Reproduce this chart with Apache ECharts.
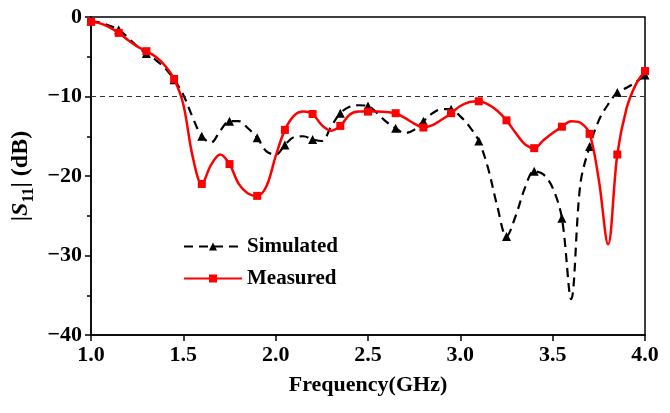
<!DOCTYPE html>
<html>
<head>
<meta charset="utf-8">
<script src="https://cdn.jsdelivr.net/npm/echarts@6/dist/echarts.min.js"></script>
<style>
  html, body { margin: 0; padding: 0; background: #fff; }
  #chart { width: 670px; height: 413px; }
</style>
</head>
<body>
<div id="chart"></div>
<script>
// sampling frequencies (GHz), every 3rd point carries a marker
var freq = [1.00, 1.05, 1.10, 1.15, 1.20, 1.25, 1.30, 1.35, 1.40, 1.45,
  1.50, 1.55, 1.60, 1.65, 1.70, 1.75, 1.80, 1.85, 1.90, 1.95,
  2.00, 2.05, 2.10, 2.15, 2.20, 2.25, 2.30, 2.35, 2.40, 2.45,
  2.50, 2.55, 2.60, 2.65, 2.70, 2.75, 2.80, 2.85, 2.90, 2.95,
  3.00, 3.05, 3.10, 3.15, 3.20, 3.25, 3.30, 3.35, 3.40, 3.45,
  3.50, 3.55, 3.60, 3.65, 3.70, 3.75, 3.80, 3.85, 3.90, 3.95, 4.00];

var simulated = [-0.5, -0.7, -1.1, -1.6, -2.6, -3.7, -4.6, -5.4, -6.4, -7.9,
  -9.8, -12.6, -15.0, -15.8, -14.3, -13.1, -13.1, -14.0, -15.2, -16.9,
  -17.3, -16.1, -15.1, -15.0, -15.4, -15.6, -13.8, -12.1, -11.3, -11.1,
  -11.2, -12.1, -13.2, -14.0, -14.6, -14.2, -13.1, -12.1, -11.6, -11.6,
  -12.5, -13.8, -15.6, -19.0, -23.8, -27.6, -25.0, -21.5, -19.4, -19.8,
  -21.5, -25.3, -35.5, -21.0, -16.3, -13.0, -11.0, -9.5, -8.9, -8.2, -7.3];

var measured = [-0.6, -0.8, -1.3, -2.0, -2.9, -3.7, -4.3, -5.0, -6.1, -7.8,
  -11.0, -17.5, -21.0, -18.6, -17.3, -18.5, -21.0, -22.2, -22.5, -21.3,
  -17.5, -14.2, -12.4, -11.9, -12.2, -13.6, -14.3, -13.7, -12.3, -11.9,
  -11.9, -11.9, -11.95, -12.1, -12.7, -13.4, -13.9, -13.6, -12.9, -12.1,
  -11.2, -10.7, -10.6, -11.0, -11.8, -13.0, -14.6, -16.0, -16.5, -15.5,
  -14.6, -13.8, -13.1, -13.3, -14.7, -20.5, -28.6, -17.3, -11.5, -8.5, -6.8];

var xTicks = [1.0, 1.5, 2.0, 2.5, 3.0, 3.5, 4.0];
var yTicks = [0, -10, -20, -30, -40];
var threshold = -10;

var serif = '"Liberation Serif", "DejaVu Serif", serif';

function pairs(ys) {
  return freq.map(function (f, i) { return [f, ys[i]]; });
}

function markerSize(size) {
  return function (val, params) {
    return params.dataIndex % 3 === 0 ? size : 0;
  };
}

var chart = echarts.init(document.getElementById('chart'), null, { renderer: 'canvas' });

chart.setOption({
  animation: false,
  grid: {
    left: 91, right: 25, top: 17, bottom: 78,
    show: true,
    borderColor: '#000',
    borderWidth: 1.5
  },
  legend: {
    data: ['Simulated', 'Measured'],
    orient: 'vertical',
    left: 178,
    top: 231,
    itemWidth: 58,
    itemHeight: 10,
    itemGap: 11,
    textStyle: { fontFamily: serif, fontWeight: 'bold', fontSize: 21, color: '#000' }
  },
  xAxis: {
    type: 'value',
    min: 1.0,
    max: 4.0,
    interval: 0.5,
    name: 'Frequency(GHz)',
    nameLocation: 'middle',
    nameGap: 39,
    nameTextStyle: { fontFamily: serif, fontWeight: 'bold', fontSize: 22, color: '#000' },
    axisLine: { onZero: false, lineStyle: { color: '#000', width: 1.5 } },
    axisTick: { length: 6, lineStyle: { color: '#000', width: 1.5 } },
    axisLabel: {
      fontFamily: serif, fontWeight: 'bold', fontSize: 22, color: '#000', margin: 9,
      formatter: function (v) {
        return xTicks.indexOf(v) >= 0 ? v.toFixed(1) : '';
      }
    },
    splitLine: { show: false }
  },
  yAxis: {
    type: 'value',
    min: -40,
    max: 0,
    interval: 10,
    name: '|{i|S}{sub|11}| (dB)',
    nameLocation: 'middle',
    nameGap: 50,
    nameTextStyle: {
      fontFamily: serif, fontWeight: 'bold', fontSize: 24, color: '#000',
      rich: {
        i: { fontFamily: serif, fontWeight: 'bold', fontStyle: 'italic', fontSize: 24, color: '#000' },
        sub: { fontFamily: serif, fontWeight: 'bold', fontSize: 16, color: '#000', verticalAlign: 'bottom', padding: [16, 0, 0, 0] }
      }
    },
    axisLine: { onZero: false, lineStyle: { color: '#000', width: 1.5 } },
    axisTick: { length: 6, lineStyle: { color: '#000', width: 1.5 } },
    minorTick: { show: true, splitNumber: 2, length: 4, lineStyle: { color: '#000', width: 1.5 } },
    axisLabel: {
      fontFamily: serif, fontWeight: 'bold', fontSize: 22, color: '#000', margin: 9,
      formatter: function (v) {
        if (yTicks.indexOf(v) < 0) return '';
        return v < 0 ? '\u2212' + Math.abs(v) : String(v);
      }
    },
    splitLine: { show: false }
  },
  series: [
    {
      name: 'Simulated',
      type: 'line',
      data: pairs(simulated),
      smooth: 0.35,
      symbol: 'triangle',
      symbolSize: markerSize(9),
      showAllSymbol: true,
      color: '#000',
      lineStyle: { color: '#000', width: 2.2, type: [9, 6] },
      itemStyle: { color: '#000' },
      z: 2,
      markLine: {
        silent: true,
        symbol: ['none', 'none'],
        label: { show: false },
        lineStyle: { color: '#333', width: 1, type: [5, 4] },
        data: [{ yAxis: threshold }]
      }
    },
    {
      name: 'Measured',
      type: 'line',
      data: pairs(measured),
      smooth: 0.35,
      symbol: 'rect',
      symbolSize: markerSize(8),
      showAllSymbol: true,
      color: '#ff0000',
      lineStyle: { color: '#ff0000', width: 2.5 },
      itemStyle: { color: '#ff0000' },
      z: 3
    }
  ]
});
</script>
</body>
</html>
